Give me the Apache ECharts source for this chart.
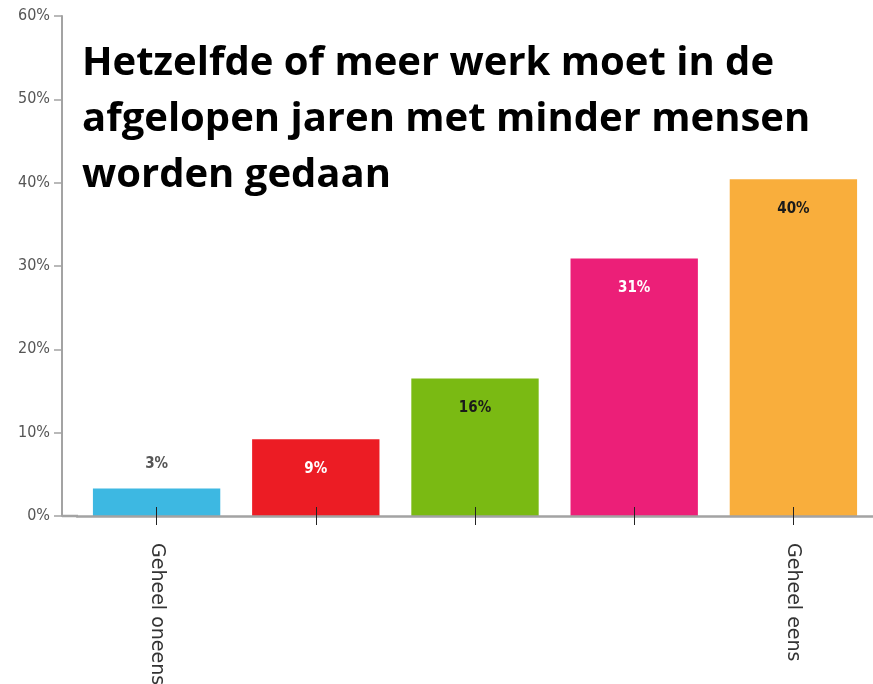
<!DOCTYPE html>
<html>
<head>
<meta charset="utf-8">
<script src="https://cdn.jsdelivr.net/npm/echarts@6/dist/echarts.min.js"></script>
<style>
  html, body { margin: 0; padding: 0; background: #fff; }
  #chart { width: 873px; height: 684px; }
</style>
</head>
<body>
<div id="chart"></div>
<script>
  // data
  var categories = ['Geheel oneens', '2', '3', '4', 'Geheel eens']
  var values = [3.3, 9.2, 16.5, 30.9, 40.4]
  var valueLabels = ['3%', '9%', '16%', '31%', '40%']
  var barColors = ['#3db8e2', '#ec1c24', '#7aba13', '#ec1f78', '#f9ae3c']
  var labelColors = ['#555555', '#ffffff', '#1a1a1a', '#ffffff', '#1a1a1a']
  var yTicks = [0, 10, 20, 30, 40, 50, 60]

  var chart = echarts.init(document.getElementById('chart'))

  var tickStyle = { color: '#222', width: 1 }

  var option = {
    animation: false,
    title: {
      text: 'Hetzelfde of meer werk moet in de\nafgelopen jaren met minder mensen\nworden gedaan',
      left: 77,
      top: 31,
      textStyle: {
        fontFamily: 'Open Sans',
        fontSize: 40,
        fontWeight: 'bold',
        color: '#000',
        lineHeight: 56
      }
    },
    grid: {
      left: 77,
      right: 0,
      top: 16,
      bottom: 168,
      outerBoundsMode: 'none',
      containLabel: false
    },
    xAxis: [{
      type: 'category',
      data: categories,
      z: 10,
      axisLine: {
        lineStyle: { color: '#a3a3a3', width: 2.5 }
      },
      axisTick: {
        show: true,
        inside: true,
        interval: 0,
        length: 9,
        alignWithLabel: true,
        lineStyle: tickStyle
      },
      axisLabel: {
        rotate: -90,
        margin: 27,
        color: '#333',
        fontFamily: 'DejaVu Sans',
        fontSize: 19,
        interval: function (index) {
          return index === 0 || index === categories.length - 1
        }
      }
    }, {
      // second axis only for the outer half of the ticks
      type: 'category',
      data: categories,
      position: 'bottom',
      z: 10,
      axisLine: { show: false },
      axisTick: {
        show: true,
        interval: 0,
        length: 9,
        alignWithLabel: true,
        lineStyle: tickStyle
      },
      axisLabel: { show: false }
    }],
    yAxis: {
      type: 'value',
      min: yTicks[0],
      max: yTicks[yTicks.length - 1],
      interval: 10,
      offset: 15,
      axisLine: {
        show: true,
        lineStyle: { color: '#a3a3a3', width: 2 }
      },
      axisTick: {
        show: true,
        length: 8,
        lineStyle: { color: '#a3a3a3', width: 1.5 }
      },
      splitLine: { show: false },
      axisLabel: {
        margin: 12,
        color: '#555',
        fontFamily: 'DejaVu Sans Condensed',
        fontSize: 16,
        formatter: '{value}%'
      }
    },
    series: [{
      type: 'bar',
      barWidth: '80%',
      data: values.map(function (v, i) {
        var first = i === 0
        return {
          value: v,
          itemStyle: { color: barColors[i] },
          label: {
            show: true,
            position: first ? 'top' : 'insideTop',
            distance: first ? 17 : 22,
            color: labelColors[i],
            fontFamily: 'DejaVu Sans Condensed',
            fontWeight: 'bold',
            fontSize: 15,
            formatter: valueLabels[i]
          }
        }
      })
    }]
  }

  chart.setOption(option)

  // the x axis line runs on to the y axis (which sits 15px left of the grid)
  var origin = chart.convertToPixel({ gridIndex: 0 }, [0, 0])
  chart.setOption({
    graphic: [{
      type: 'line',
      shape: { x1: 62, y1: origin[1], x2: 78, y2: origin[1] },
      style: { stroke: '#a3a3a3', lineWidth: 2.5 }
    }]
  })
</script>
</body>
</html>
